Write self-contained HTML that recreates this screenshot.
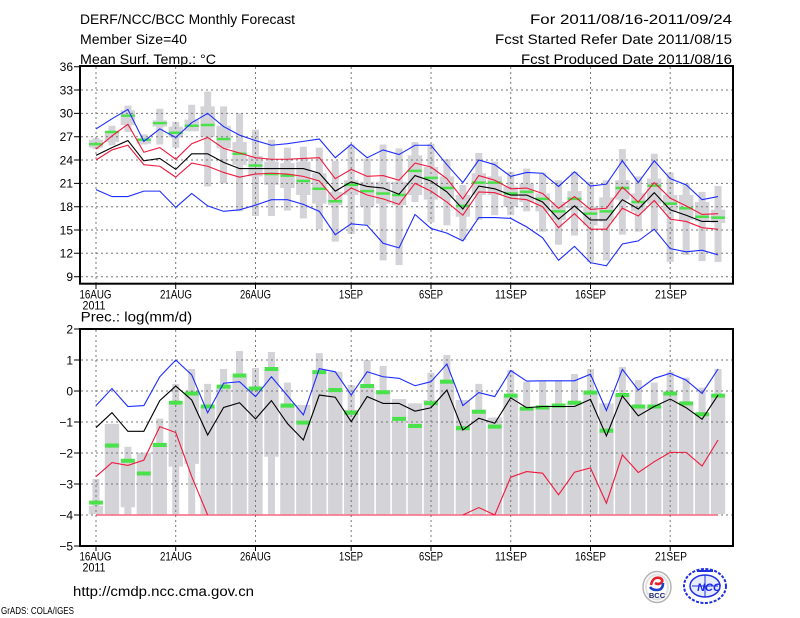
<!DOCTYPE html>
<html><head><meta charset="utf-8"><style>
html,body{margin:0;padding:0;background:#fff;}
svg{display:block;}
text{font-family:"Liberation Sans",sans-serif;fill:#000;}
</style></head><body>
<svg width="800" height="618" viewBox="0 0 800 618" xmlns="http://www.w3.org/2000/svg">
<rect width="800" height="618" fill="#fff"/>

<!-- Header -->
<text x="80" y="24" font-size="13.5" textLength="215" lengthAdjust="spacingAndGlyphs">DERF/NCC/BCC Monthly Forecast</text>
<text x="80" y="44" font-size="13.5" textLength="107" lengthAdjust="spacingAndGlyphs">Member Size=40</text>
<text x="80" y="64" font-size="13.5" textLength="136" lengthAdjust="spacingAndGlyphs">Mean Surf. Temp.: °C</text>
<text x="530" y="24" font-size="13.5" textLength="202" lengthAdjust="spacingAndGlyphs">For 2011/08/16-2011/09/24</text>
<text x="495" y="44" font-size="13.5" textLength="237" lengthAdjust="spacingAndGlyphs">Fcst Started Refer Date 2011/08/15</text>
<text x="521" y="64" font-size="13.5" textLength="211" lengthAdjust="spacingAndGlyphs">Fcst Produced Date 2011/08/16</text>

<!-- ===== TOP CHART ===== -->
<g transform="matrix(15.95 0 0 -7.777 96 346.67)" fill="#d3d3d8">
<path d="M-0.22 25.4h.44v1.4h-.44zM.78 25.9h.44v2.5h-.44zM1.78 27.6h.44v3.4h-.44zM2.78 26h.44v1.3h-.44zM3.78 26h.44v4.6h-.44zM4.78 25.6h.44v3.3h-.44zM5.78 27.7h.44v3.4h-.44zM6.78 20.6h.44v12.2h-.44zM7.78 21h.44v9.9h-.44zM8.78 17.4h.44v12.6h-.44zM9.78 16.8h.44v11.1h-.44zM10.78 16.8h.44v9.8h-.44zM11.78 17.5h.44v8.1h-.44zM12.78 16.5h.44v9.2h-.44zM13.78 15.1h.44v10.5h-.44zM14.78 13.5h.44v10.4h-.44zM15.78 14.5h.44v11.5h-.44zM16.78 15.6h.44v8.6h-.44zM17.78 11.1h.44v14.9h-.44zM18.78 10.5h.44v15h-.44zM19.78 18.6h.44v7.7h-.44zM20.78 16h.44v10.1h-.44zM21.78 15.6h.44v8.5h-.44zM22.78 13.7h.44v7.1h-.44zM23.78 16.3h.44v8.6h-.44zM24.78 16.9h.44v6.9h-.44zM25.78 16.9h.44v5.6h-.44zM26.78 17.4h.44v5.5h-.44zM27.78 14.8h.44v7.6h-.44zM28.78 13.1h.44v8.3h-.44zM29.78 14.3h.44v8.2h-.44zM30.78 10.9h.44v10.3h-.44zM31.78 11.1h.44v10.3h-.44zM32.78 14.4h.44v11h-.44zM33.78 14.8h.44v7.1h-.44zM34.78 15h.44v9.8h-.44zM35.78 10.9h.44v11.5h-.44zM36.78 11.8h.44v9.2h-.44zM37.78 11h.44v8.9h-.44zM38.78 10.9h.44v9.75h-.44z"/>
<path d="M-.45 25.6h.9v1h-.9zM.55 26.3h.9v1.4h-.9zM1.55 28.5h.9v1.9h-.9zM2.55 26.1h.9v.7h-.9zM3.55 28.3h.9v.8h-.9zM4.55 26.9h.9v1.4h-.9zM5.55 27.7h.9v1.5h-.9zM6.55 27h.9v3.9h-.9zM7.55 25.5h.9v2.9h-.9zM8.55 23.4h.9v2.9h-.9zM9.55 21.9h.9v2.6h-.9zM10.55 20.8h.9v3h-.9zM11.55 20.4h.9v3.2h-.9zM12.55 19.5h.9v4.3h-.9zM13.55 18.4h.9v3.9h-.9zM14.55 18.2h.9v1.7h-.9zM15.55 19.5h.9v1.9h-.9zM16.55 18h.9v3.2h-.9zM17.55 18.4h.9v2.8h-.9zM18.55 18.2h.9v3h-.9zM19.55 19.5h.9v5.1h-.9zM20.55 18.9h.9v4.2h-.9zM21.55 19.1h.9v2.8h-.9zM22.55 16.7h.9v2.8h-.9zM23.55 19.5h.9v2.8h-.9zM24.55 19.5h.9v2.4h-.9zM25.55 18h.9v2.6h-.9zM26.55 18.6h.9v2.4h-.9zM27.55 17.4h.9v2.3h-.9zM28.55 16.3h.9v2.3h-.9zM29.55 17.8h.9v2.2h-.9zM30.55 15.6h.9v2.4h-.9zM31.55 16.1h.9v3.1h-.9zM32.55 18.9h.9v2.5h-.9zM33.55 17.4h.9v2.3h-.9zM34.55 18.4h.9v3.2h-.9zM35.55 17.4h.9v2.1h-.9zM36.55 16.3h.9v3.2h-.9zM37.55 16.1h.9v2.5h-.9zM38.55 15.9h.9v1.7h-.9z"/>
</g>

<!-- top grid -->
<g stroke="#777" stroke-width="1" stroke-dasharray="2,3" fill="none">
<path d="M81 90H732M81 113.4H732M81 136.7H732M81 160H732M81 183.4H732M81 206.7H732M81 230H732M81 253.3H732M81 276.7H732"/>
<path d="M96 67V283M175.7 67V283M255.5 67V283M351.2 67V283M431 67V283M510.7 67V283M590.5 67V283M670.2 67V283"/>
</g>

<g transform="matrix(15.95 0 0 -7.777 96 346.67)">
<path fill="#4ae24a" d="M-.43 25.89h.86v.32h-.86zM.57 27.44h.86v.32h-.86zM1.57 29.54h.86v.32h-.86zM2.57 26.44h.86v.32h-.86zM3.57 28.59h.86v.32h-.86zM4.57 27.34h.86v.32h-.86zM5.57 28.24h.86v.32h-.86zM6.57 28.34h.86v.32h-.86zM7.57 26.54h.86v.32h-.86zM8.57 24.64h.86v.32h-.86zM9.57 23.14h.86v.32h-.86zM10.57 22.04h.86v.32h-.86zM11.57 21.84h.86v.32h-.86zM12.57 21.14h.86v.32h-.86zM13.57 20.14h.86v.32h-.86zM14.57 18.54h.86v.32h-.86zM15.57 20.64h.86v.32h-.86zM16.57 19.84h.86v.32h-.86zM17.57 19.54h.86v.32h-.86zM18.57 19.34h.86v.32h-.86zM19.57 22.44h.86v.32h-.86zM20.57 21.54h.86v.32h-.86zM21.57 20.24h.86v.32h-.86zM22.57 17.94h.86v.32h-.86zM23.57 20.94h.86v.32h-.86zM24.57 20.94h.86v.32h-.86zM25.57 19.54h.86v.32h-.86zM26.57 19.74h.86v.32h-.86zM27.57 18.84h.86v.32h-.86zM28.57 17.24h.86v.32h-.86zM29.57 18.84h.86v.32h-.86zM30.57 16.94h.86v.32h-.86zM31.57 17.24h.86v.32h-.86zM32.57 20.24h.86v.32h-.86zM33.57 18.44h.86v.32h-.86zM34.57 20.54h.86v.32h-.86zM35.57 18.24h.86v.32h-.86zM36.57 17.64h.86v.32h-.86zM37.57 16.54h.86v.32h-.86zM38.57 16.44h.86v.32h-.86z"/>
<g fill="none" stroke-width="1.1">
<polyline vector-effect="non-scaling-stroke" stroke="#1e2cff" points="0,28 1,29.3 2,30.5 3,26.4 4,28 5,26.9 6,28.8 7,30 8,28.3 9,27.2 10,26.5 11,25.9 12,26.1 13,26.4 14,26.7 15,24.3 16,26 17,24.3 18,25.3 19,24.7 20,25.9 21,25.9 22,23.4 23,21.1 24,24 25,23.4 26,21.9 27,22.4 28,22.3 29,20.6 30,22.5 31,20.65 32,20.9 33,23.9 34,21.1 35,23.9 36,21.6 37,20.8 38,18.9 39,19.3"/>
<polyline vector-effect="non-scaling-stroke" stroke="#f0183c" points="0,25.4 1,27.1 2,28.6 3,25 4,25.6 5,24.1 6,26.1 7,26.9 8,25.5 9,24.9 10,24.3 11,24.1 12,24.1 13,24.2 14,24.3 15,21.6 16,22.8 17,21.9 18,22 19,21.4 20,23.6 21,23.1 22,21.6 23,19 24,22 25,21.4 26,20.3 27,20.4 28,19.7 29,17.8 30,19.3 31,17.65 32,17.8 33,20.5 34,18.6 35,21.1 36,19.1 37,18.1 38,17 39,17.1"/>
<polyline vector-effect="non-scaling-stroke" stroke="#000" points="0,24.6 1,25.6 2,26.5 3,23.9 4,24.2 5,22.8 6,24.8 7,24.8 8,23.7 9,22.9 10,22.9 11,22.9 12,22.9 13,22.9 14,22.3 15,20 16,21.2 17,20.6 18,20.4 19,19.6 20,22 21,21.3 22,19.9 23,17.7 24,20.65 25,20.3 26,19.5 27,19.5 28,18.6 29,16.4 30,18.1 31,16.3 32,16.3 33,18.9 34,17.7 35,19.8 36,17.6 37,16.9 38,16.1 39,16.1"/>
<polyline vector-effect="non-scaling-stroke" stroke="#f0183c" points="0,24 1,25.3 2,25.9 3,23.4 4,23.2 5,21.8 6,23.6 7,23.2 8,22.4 9,21.8 10,22.2 11,22.3 12,22.2 13,21.9 14,21.3 15,18.9 16,20.4 17,19.5 18,19 19,18.3 20,21 21,20 22,18.6 23,16.9 24,19.9 25,19.8 26,19.1 27,18.9 28,18 29,15.3 30,17.1 31,15.1 32,15.1 33,17.8 34,16.8 35,18.8 36,16.4 37,16.1 38,15.3 39,15.1"/>
<polyline vector-effect="non-scaling-stroke" stroke="#1e2cff" points="0,20.2 1,19.3 2,19.3 3,20 4,20 5,17.9 6,19.7 7,18.1 8,17.4 9,17.6 10,18.2 11,18.9 12,18.9 13,18.3 14,17.4 15,14.4 16,15.8 17,15.6 18,13.3 19,12.7 20,17 21,15.2 22,14.6 23,13.6 24,16.6 25,16.6 26,16.5 27,15.4 28,14 29,11.1 30,12.9 31,10.8 32,10.4 33,13.2 34,13.6 35,15.1 36,12.6 37,12.2 38,12.4 39,11.8"/>
</g>
</g>

<!-- top frame & ticks -->
<rect x="80" y="66" width="653" height="217.7" fill="none" stroke="#000" stroke-width="2"/>
<path stroke="#000" stroke-width="1" d="M74 66.7H80M74 90H80M74 113.4H80M74 136.7H80M74 160H80M74 183.4H80M74 206.7H80M74 230H80M74 253.3H80M74 276.7H80M96 284V289M175.7 284V289M255.5 284V289M351.2 284V289M431 284V289M510.7 284V289M590.5 284V289M670.2 284V289"/>
<g font-size="12" text-anchor="end">
<text x="73" y="71">36</text><text x="73" y="94.3">33</text><text x="73" y="117.7">30</text><text x="73" y="141">27</text><text x="73" y="164.3">24</text><text x="73" y="187.7">21</text><text x="73" y="211">18</text><text x="73" y="234.3">15</text><text x="73" y="257.6">12</text><text x="73" y="281">9</text>
</g>
<g font-size="12">
<text x="79.5" y="298.5" textLength="32" lengthAdjust="spacingAndGlyphs">16AUG</text>
<text x="82.5" y="309.5" textLength="23" lengthAdjust="spacingAndGlyphs">2011</text>
<text x="160" y="298.5" textLength="32" lengthAdjust="spacingAndGlyphs">21AUG</text>
<text x="240" y="298.5" textLength="31" lengthAdjust="spacingAndGlyphs">26AUG</text>
<text x="339" y="298.5" textLength="24" lengthAdjust="spacingAndGlyphs">1SEP</text>
<text x="419" y="298.5" textLength="24" lengthAdjust="spacingAndGlyphs">6SEP</text>
<text x="495" y="298.5" textLength="32" lengthAdjust="spacingAndGlyphs">11SEP</text>
<text x="575" y="298.5" textLength="31" lengthAdjust="spacingAndGlyphs">16SEP</text>
<text x="655" y="298.5" textLength="32" lengthAdjust="spacingAndGlyphs">21SEP</text>
</g>

<!-- ===== BOTTOM CHART ===== -->
<text x="80.7" y="321.7" font-size="13.5" textLength="111.5" lengthAdjust="spacingAndGlyphs">Prec.: log(mm/d)</text>

<g transform="matrix(15.95 0 0 -31 96 391)" fill="#d3d3d8">
<path d="M-.22 -3.97h.44v1.13h-.44zM.78 -3.97h.44v2.91h-.44zM1.78 -3.97h.44v2.17h-.44zM2.78 -3.97h.44v1.98h-.44zM3.78 -3.97h.44v3.08h-.44zM4.78 -3.97h.44v4.2h-.44zM5.78 -3.97h.44v4.68h-.44zM6.78 -3.97h.44v4.2h-.44zM7.78 -3.97h.44v4.68h-.44zM8.78 -3.97h.44v5.26h-.44zM9.78 -3.97h.44v4.71h-.44zM10.78 -3.97h.44v5.23h-.44zM11.78 -3.97h.44v4.24h-.44zM12.78 -3.97h.44v3.52h-.44zM13.78 -3.97h.44v5.19h-.44zM14.78 -3.97h.44v4.59h-.44zM15.78 -3.97h.44v4.16h-.44zM16.78 -3.97h.44v4.97h-.44zM17.78 -3.97h.44v4.78h-.44zM18.78 -3.97h.44v3.71h-.44zM19.78 -3.97h.44v3.57h-.44zM20.78 -3.97h.44v4.56h-.44zM21.78 -3.97h.44v5.13h-.44zM22.78 -3.97h.44v3.68h-.44zM23.78 -3.97h.44v4.2h-.44zM24.78 -3.97h.44v3.11h-.44zM25.78 -3.97h.44v4.65h-.44zM26.78 -3.97h.44v4.27h-.44zM27.78 -3.97h.44v4.3h-.44zM28.78 -3.97h.44v4.3h-.44zM29.78 -3.97h.44v4.52h-.44zM30.78 -3.97h.44v4.68h-.44zM31.78 -3.97h.44v3.57h-.44zM32.78 -3.97h.44v4.75h-.44zM33.78 -3.97h.44v4.32h-.44zM34.78 -3.97h.44v4.24h-.44zM35.78 -3.97h.44v4.59h-.44zM36.78 -3.97h.44v4.4h-.44zM37.78 -3.97h.44v4.08h-.44zM38.78 -3.97h.44v4.68h-.44z"/>
<path d="M-.45 -3.97h.9v.27h-.9zM.55 -3.97h.9v2.91h-.9zM1.55 -3.75h.9v1.55h-.9zM2.55 -3.97h.9v1.98h-.9zM3.55 -3.97h.9v2.28h-.9zM4.55 -2.44h.9v1.99h-.9zM5.55 -2.35h.9v2.33h-.9zM6.55 -3.97h.9v3.47h-.9zM7.55 -3.97h.9v4.16h-.9zM8.55 -3.97h.9v4.43h-.9zM9.55 -3.97h.9v4h-.9zM10.55 -2.12h.9v2.8h-.9zM11.55 -3.97h.9v3.52h-.9zM12.55 -3.97h.9v3.52h-.9zM13.55 -3.97h.9v4.62h-.9zM14.55 -3.97h.9v4.59h-.9zM15.55 -3.97h.9v3.36h-.9zM16.55 -3.97h.9v4.16h-.9zM17.55 -3.97h.9v4h-.9zM18.55 -3.97h.9v3.71h-.9zM19.55 -3.97h.9v3.57h-.9zM20.55 -3.97h.9v3.68h-.9zM21.55 -3.97h.9v4.32h-.9zM22.55 -3.97h.9v3.68h-.9zM23.55 -3.97h.9v3.37h-.9zM24.55 -3.97h.9v3.11h-.9zM25.55 -3.97h.9v3.79h-.9zM26.55 -3.97h.9v3.42h-.9zM27.55 -3.97h.9v3.47h-.9zM28.55 -3.97h.9v3.52h-.9zM29.55 -3.97h.9v3.62h-.9zM30.55 -3.97h.9v3.97h-.9zM31.55 -3.97h.9v3.57h-.9zM32.55 -3.97h.9v3.84h-.9zM33.55 -3.97h.9v3.47h-.9zM34.55 -3.97h.9v3.47h-.9zM35.55 -3.97h.9v3.9h-.9zM36.55 -3.97h.9v3.57h-.9zM37.55 -3.97h.9v3.23h-.9zM38.55 -3.97h.9v3.84h-.9z"/>
</g>

<!-- bottom grid -->
<g stroke="#777" stroke-width="1" stroke-dasharray="2,3" fill="none">
<path d="M81 360H732M81 391H732M81 422H732M81 453H732M81 484H732M81 515H732"/>
<path d="M96 330V545M175.7 330V545M255.5 330V545M351.2 330V545M431 330V545M510.7 330V545M590.5 330V545M670.2 330V545"/>
</g>

<g transform="matrix(15.95 0 0 -31 96 391)">
<path fill="#4ae24a" d="M-.43 -3.665h.86v.13h-.86zM.57 -1.825h.86v.13h-.86zM1.57 -2.315h.86v.13h-.86zM2.57 -2.725h.86v.13h-.86zM3.57 -1.805h.86v.13h-.86zM4.57 -.445h.86v.13h-.86zM5.57 -.145h.86v.13h-.86zM6.57 -.565h.86v.13h-.86zM7.57 .075h.86v.13h-.86zM8.57 .435h.86v.13h-.86zM9.57 .015h.86v.13h-.86zM10.57 .645h.86v.13h-.86zM11.57 -.535h.86v.13h-.86zM12.57 -1.085h.86v.13h-.86zM13.57 .545h.86v.13h-.86zM14.57 -.035h.86v.13h-.86zM15.57 -.765h.86v.13h-.86zM16.57 .095h.86v.13h-.86zM17.57 -.105h.86v.13h-.86zM18.57 -.965h.86v.13h-.86zM19.57 -1.195h.86v.13h-.86zM20.57 -.455h.86v.13h-.86zM21.57 .235h.86v.13h-.86zM22.57 -1.265h.86v.13h-.86zM23.57 -.735h.86v.13h-.86zM24.57 -1.215h.86v.13h-.86zM25.57 -.215h.86v.13h-.86zM26.57 -.635h.86v.13h-.86zM27.57 -.595h.86v.13h-.86zM28.57 -.535h.86v.13h-.86zM29.57 -.445h.86v.13h-.86zM30.57 -.115h.86v.13h-.86zM31.57 -1.345h.86v.13h-.86zM32.57 -.195h.86v.13h-.86zM33.57 -.565h.86v.13h-.86zM34.57 -.565h.86v.13h-.86zM35.57 -.145h.86v.13h-.86zM36.57 -.465h.86v.13h-.86zM37.57 -.815h.86v.13h-.86zM38.57 -.215h.86v.13h-.86z"/>
<g fill="none" stroke-width="1.1">
<polyline vector-effect="non-scaling-stroke" stroke="#f0183c" points="0,-4 39,-4"/>
<polyline vector-effect="non-scaling-stroke" stroke="#f0183c" points="0,-2.76 1,-2.31 2,-2.4 3,-2.23 4,-1.15 5,-1.34 6,-2.76 7,-4 8,-4 9,-4 10,-4 11,-4 12,-4 13,-4 14,-4 15,-4 16,-4 17,-4 18,-4 19,-4 20,-4 21,-4 22,-4 23,-4 24,-3.76 25,-4 26,-2.78 27,-2.6 28,-2.65 29,-3.35 30,-2.62 31,-2.48 32,-3.62 33,-2.06 34,-2.63 35,-2.28 36,-1.98 37,-1.98 38,-2.42 39,-1.58"/>
<polyline vector-effect="non-scaling-stroke" stroke="#1e2cff" points="0,-0.47 1,0.08 2,-0.5 3,-0.47 4,0.46 5,1 6,0.52 7,-0.7 8,0.25 9,0.3 10,-0.18 11,0.46 12,-0.15 13,-0.77 14,0.72 15,0.62 16,-0.13 17,0.62 18,0.46 19,0.41 20,0.17 21,0.3 22,0.87 23,-0.47 24,-0.05 25,-0.18 26,0.66 27,0.32 28,0.33 29,0.33 30,0.33 31,0.54 32,-0.63 33,0.7 34,0.03 35,0.41 36,0.57 37,0.35 38,-0.08 39,0.71"/>
<polyline vector-effect="non-scaling-stroke" stroke="#000" points="0,-1.18 1,-0.7 2,-1.3 3,-1.3 4,-0.31 5,0.16 6,-0.29 7,-1.42 8,-0.53 9,-0.38 10,-0.9 11,-0.31 12,-1.05 13,-1.58 14,-0.13 15,-0.2 16,-0.99 17,-0.18 18,-0.4 19,-0.4 20,-0.65 21,-0.54 22,0.03 23,-1.26 24,-0.88 25,-1.04 26,-0.22 27,-0.54 28,-0.5 29,-0.5 30,-0.5 31,-0.27 32,-1.45 33,-0.16 34,-0.8 35,-0.5 36,-0.26 37,-0.54 38,-0.91 39,-0.13"/>
</g>
</g>

<!-- bottom frame & ticks -->
<rect x="80" y="329" width="653" height="217" fill="none" stroke="#000" stroke-width="2"/>
<path stroke="#000" stroke-width="1" d="M74 329H80M74 360H80M74 391H80M74 422H80M74 453H80M74 484H80M74 515H80M74 546H80M96 546V551M175.7 546V551M255.5 546V551M351.2 546V551M431 546V551M510.7 546V551M590.5 546V551M670.2 546V551"/>
<g font-size="12" text-anchor="end">
<text x="73" y="333.3">2</text><text x="73" y="364.3">1</text><text x="73" y="395.3">0</text><text x="73" y="426.3">−1</text><text x="73" y="457.3">−2</text><text x="73" y="488.3">−3</text><text x="73" y="519.3">−4</text><text x="73" y="550.3">−5</text>
</g>
<g font-size="12">
<text x="79.5" y="560.5" textLength="32" lengthAdjust="spacingAndGlyphs">16AUG</text>
<text x="82.5" y="571.5" textLength="23" lengthAdjust="spacingAndGlyphs">2011</text>
<text x="160" y="560.5" textLength="32" lengthAdjust="spacingAndGlyphs">21AUG</text>
<text x="240" y="560.5" textLength="31" lengthAdjust="spacingAndGlyphs">26AUG</text>
<text x="339" y="560.5" textLength="24" lengthAdjust="spacingAndGlyphs">1SEP</text>
<text x="419" y="560.5" textLength="24" lengthAdjust="spacingAndGlyphs">6SEP</text>
<text x="495" y="560.5" textLength="32" lengthAdjust="spacingAndGlyphs">11SEP</text>
<text x="575" y="560.5" textLength="31" lengthAdjust="spacingAndGlyphs">16SEP</text>
<text x="655" y="560.5" textLength="32" lengthAdjust="spacingAndGlyphs">21SEP</text>
</g>

<!-- footer -->
<text x="73" y="596" font-size="13.5" textLength="181" lengthAdjust="spacingAndGlyphs">http://cmdp.ncc.cma.gov.cn</text>
<text x="1" y="614" font-size="10" textLength="73" lengthAdjust="spacingAndGlyphs">GrADS: COLA/IGES</text>

<!-- BCC logo -->
<ellipse cx="657" cy="587" rx="14" ry="15.5" fill="#fff" stroke="#b4b4b4" stroke-width="1.5"/>
<ellipse cx="657" cy="587" rx="11" ry="12.5" fill="none" stroke="#e2e2e2" stroke-width="2"/>
<path d="M651 585 q2 -9 9 -7 q4 2 1 5 q-3 2 -6 0" fill="none" stroke="#e8202a" stroke-width="2.6"/>
<path d="M663 583 q0 7 -6 7 q-5 0 -7 -3" fill="none" stroke="#2040c8" stroke-width="2.6"/>
<text x="657" y="598" font-size="7.5" font-weight="bold" text-anchor="middle" style="fill:#1c2870">BCC</text>

<!-- NCC logo -->
<ellipse cx="705" cy="586" rx="21" ry="17" fill="none" stroke="#2030e0" stroke-width="2" stroke-dasharray="3,1.5"/>
<ellipse cx="705" cy="586" rx="15" ry="11" fill="#e8ecff" stroke="#2030e0" stroke-width="1.5"/>
<path d="M692 586 H718 M705 575 V597" stroke="#2030e0" stroke-width="1" fill="none"/>
<path d="M697 571 h16" stroke="#2030e0" stroke-width="2"/>
<text x="709" y="591" font-size="11" font-weight="bold" font-style="italic" text-anchor="middle" style="fill:#1a2ae8">NCC</text>
</svg>
</body></html>
